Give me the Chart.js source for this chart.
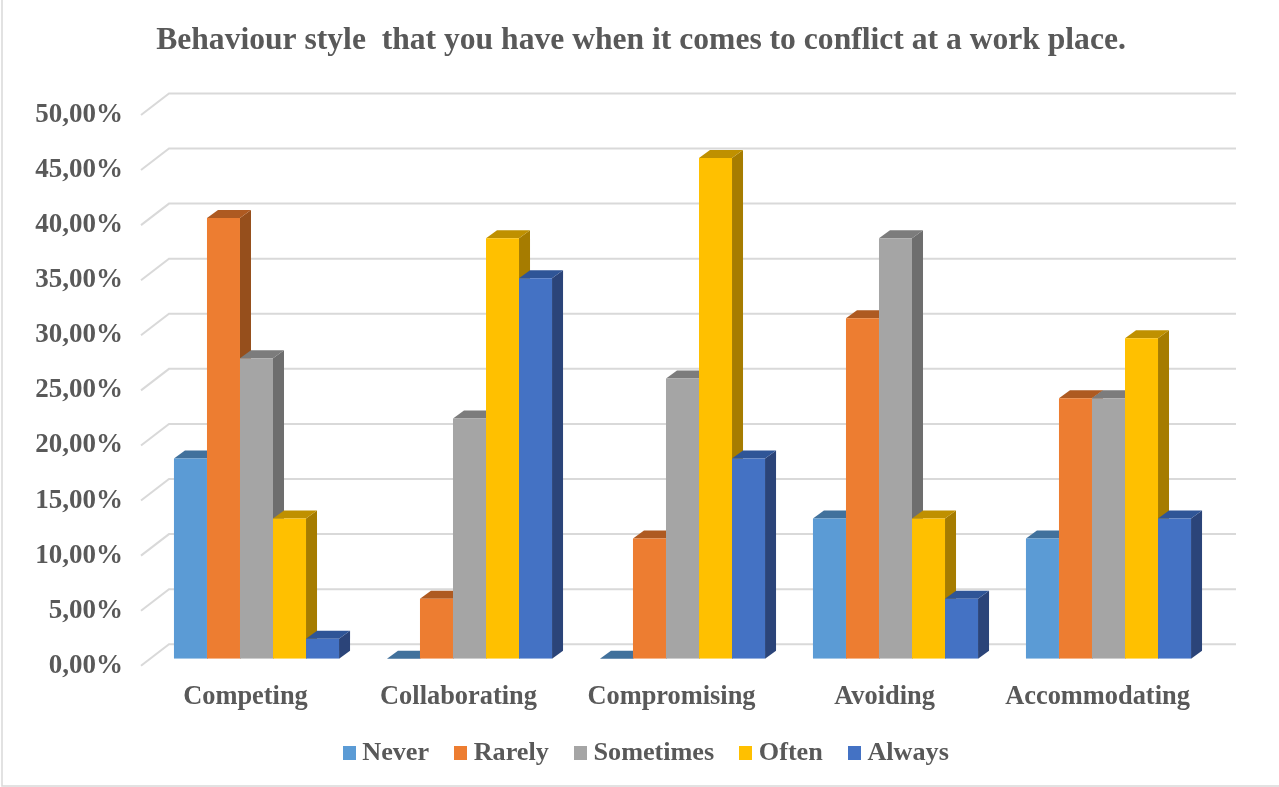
<!DOCTYPE html>
<html>
<head>
<meta charset="utf-8">
<style>html,body{margin:0;padding:0;background:#fff}canvas{display:block;filter:blur(0.4px)}</style>
<script src="https://cdn.jsdelivr.net/npm/chart.js@4"></script>
</head>
<body>
<canvas id="c" width="1279" height="787"></canvas>
<script>
const categories = ["Competing","Collaborating","Compromising","Avoiding","Accommodating"];
const never     = [18.18, 0, 0, 12.73, 10.91];
const rarely    = [40.00, 5.45, 10.91, 30.91, 23.64];
const sometimes = [27.27, 21.82, 25.45, 38.18, 23.64];
const often     = [12.73, 38.18, 45.45, 12.73, 29.09];
const always    = [1.82, 34.55, 18.18, 5.45, 12.73];
const seriesNames = ["Never","Rarely","Sometimes","Often","Always"];
const seriesValues = [never, rarely, sometimes, often, always];
const frontColors = ["#5b9bd5","#ed7d31","#a5a5a5","#ffc000","#4472c4"];
const topColors   = ["#41719c","#ae5a21","#7c7c7c","#bf9000","#2f5597"];
const sideColors  = ["#3a6a94","#964f1c","#6e6e6e","#a67c00","#2b4479"];
const titleText = "Behaviour style  that you have when it comes to conflict at a work place.";
const textColor = "#595959";
const fontFamily = "'Liberation Serif'";
const depthX = 11, depthY = 8;

function swatch(color){
  const s = document.createElement('canvas');
  s.width = 13; s.height = 14;
  const g = s.getContext('2d');
  g.fillStyle = color; g.fillRect(0,0,13,14);
  return s;
}

const scene = {
  id:'scene',
  afterLayout(chart){
    chart.scales.y.left = 0;
    chart.scales.x.bottom += 20;
    chart.legend.left += 4; chart.legend.right += 4;
    chart.titleBlock.left -= 4; chart.titleBlock.right -= 4;
  },
  beforeDraw(chart){
    const {ctx,width,height} = chart;
    ctx.save();
    ctx.fillStyle='#fff'; ctx.fillRect(0,0,width,height);
    ctx.strokeStyle='#d9d9d9'; ctx.lineWidth=1.5;
    ctx.beginPath(); ctx.moveTo(2,0); ctx.lineTo(2,786); ctx.lineTo(width,786); ctx.stroke();
    ctx.restore();
  },
  beforeDatasetsDraw(chart){
    const {ctx,scales:{y}} = chart;
    ctx.save();
    ctx.strokeStyle='#d9d9d9'; ctx.lineWidth=2;
    y.ticks.forEach(t=>{
      const py = y.getPixelForValue(t.value)-14.5;
      ctx.beginPath();
      ctx.moveTo(141,py+21.5); ctx.lineTo(169,py); ctx.lineTo(1236,py);
      ctx.stroke();
    });
    const poly=(c,pts)=>{
      ctx.fillStyle=c; ctx.beginPath();
      pts.forEach((p,i)=>i?ctx.lineTo(p[0],p[1]):ctx.moveTo(p[0],p[1]));
      ctx.closePath(); ctx.fill();
    };
    categories.forEach((_,ci)=>{
      seriesValues.forEach((_,si)=>{
        const b = chart.getDatasetMeta(si).data[ci];
        const l=b.x-b.width/2, r=b.x+b.width/2, t=b.y, bt=b.base;
        poly(sideColors[si],[[r,t],[r+depthX,t-depthY],[r+depthX,bt-depthY],[r,bt]]);
        poly(topColors[si],[[l,t],[l+depthX,t-depthY],[r+depthX,t-depthY],[r,t]]);
      });
    });
    ctx.restore();
  }
};

new Chart(document.getElementById('c'),{
  type:'bar',
  data:{labels:categories,datasets:seriesNames.map((n,i)=>({
    label:n,data:seriesValues[i],backgroundColor:frontColors[i],borderWidth:0,
    barPercentage:1,categoryPercentage:0.775
  }))},
  plugins:[scene],
  options:{
    responsive:false,animation:false,
    layout:{padding:{left:75,right:64,top:0,bottom:11}},
    scales:{
      x:{
        grid:{display:false},border:{display:false},
        ticks:{color:textColor,font:{family:fontFamily,size:26.4,weight:'bold'},padding:15,labelOffset:-11,maxRotation:0,autoSkip:false},
        afterFit(s){s.height=49.5;}
      },
      y:{
        min:0,max:50,
        grid:{display:false},border:{display:false},
        ticks:{stepSize:5,color:textColor,font:{family:fontFamily,size:27,weight:'bold'},padding:19,labelOffset:7,
          callback:v=>v.toFixed(2).replace('.',',')+'%'},
        afterFit(s){s.width=75;}
      }
    },
    plugins:{
      tooltip:{enabled:false},
      title:{display:true,text:titleText,color:textColor,
        font:{family:fontFamily,size:31.6,weight:'bold'},padding:{top:22,bottom:48}},
      legend:{position:'bottom',
        labels:{usePointStyle:true,pointStyleWidth:0.01,boxHeight:14,padding:31.5,color:textColor,
          font:{family:fontFamily,size:26.2,weight:'bold'},
          generateLabels:()=>seriesNames.map((n,i)=>({text:n,fillStyle:frontColors[i],strokeStyle:frontColors[i],lineWidth:0,
            pointStyle:swatch(frontColors[i]),datasetIndex:i,hidden:false,fontColor:textColor}))}
      }
    }
  }
});
</script>
</body>
</html>
